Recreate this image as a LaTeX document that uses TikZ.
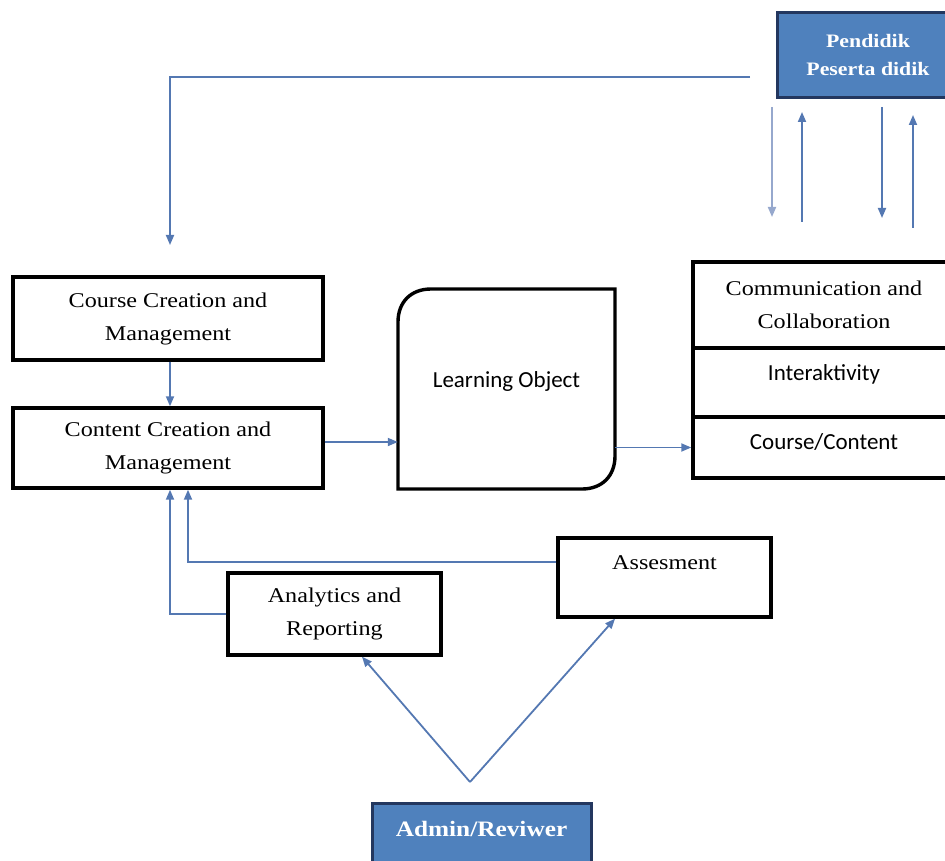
\documentclass[tikz,border=0pt]{standalone}
\usepackage{fontspec}
\setmainfont{Liberation Serif}
\newfontfamily\serifx[FakeStretch=1.15]{Liberation Serif}
\newfontfamily\sansx{Carlito}
\usetikzlibrary{arrows.meta,calc}
\definecolor{arrblue}{RGB}{84,120,178}
\definecolor{arrlight}{RGB}{150,168,205}
\definecolor{boxblue}{RGB}{79,129,189}
\definecolor{boxedge}{RGB}{35,55,95}
\begin{document}
\begin{tikzpicture}[x=1pt,y=-1pt,
  wbox/.style={draw=black, line width=3.4pt, fill=white, inner sep=0pt, align=center},
  bbox/.style={draw=boxedge, line width=3pt, fill=boxblue, inner sep=0pt, align=center, text=white},
  serift/.style={font=\serifx\fontsize{21}{33}\selectfont},
  sanst/.style={font=\sansx\fontsize{23}{28}\selectfont},
  boldt/.style={font=\serifx\bfseries\fontsize{19}{28}\selectfont},
  bigboldt/.style={font=\serifx\bfseries\fontsize{22}{28}\selectfont},
  arr/.style={draw=arrblue, line width=1.8pt, -{Triangle[length=10pt,width=8pt]}},
  arrl/.style={draw=arrlight, line width=1.8pt, -{Triangle[length=10pt,width=8pt]}}
]
\useasboundingbox (0,0) rectangle (945,861);
\clip (0,0) rectangle (945,861);

% Top box
\node[bbox, boldt, minimum width=182, minimum height=85] (pend) at (868,55.5) {Pendidik\\Peserta didik};

% Left column
\node[wbox, serift, minimum width=310, minimum height=83] (course) at (168,318.5) {Course Creation and\\Management};
\node[wbox, serift, minimum width=310, minimum height=80] (content) at (168,448) {Content Creation and\\Management};

% Learning object
\draw[line width=3.4pt, fill=white] (398,489) -- (398,322) .. controls (398,302) and (411,289) .. (431,289) -- (615,289) -- (615,456) .. controls (615,476) and (602,489) .. (582,489) -- cycle;
\node[sanst, minimum width=217, minimum height=200, inner sep=0pt, text height=17pt, text depth=21pt] (lo) at (506.5,389) {Learning Object};

% Right stacked box
\node[wbox, serift, minimum width=262, minimum height=86] (comm) at (824,305) {Communication and\\Collaboration};
\node[wbox, sanst, minimum width=262, minimum height=69, text height=17pt, text depth=21pt] (inter) at (824,382.5) {Interaktivity};
\node[wbox, sanst, minimum width=262, minimum height=61, text height=17pt, text depth=14pt] (cc) at (824,447.5) {Course/Content};

% Lower boxes
\node[wbox, serift, minimum width=213, minimum height=79, text height=15pt, text depth=32pt] (asm) at (664.5,577.5) {Assesment};
\node[wbox, serift, minimum width=213, minimum height=82] (ana) at (334.5,614) {Analytics and\\Reporting};
\node[bbox, bigboldt, minimum width=219, minimum height=70, text height=17pt, text depth=21pt] (admin) at (481.5,838) {Admin/Reviwer};

% Arrows below Pendidik
\coordinate (d1s) at (772,107); \coordinate (d1e) at (772,217);
\coordinate (u1s) at (802,222); \coordinate (u1e) at (802,112);
\coordinate (d2s) at (882,107); \coordinate (d2e) at (882,218);
\coordinate (u2s) at (913,228); \coordinate (u2e) at (913,115);
\draw[arrl] (d1s) -- (d1e);
\draw[arr] (u1s) -- (u1e);
\draw[arr] (d2s) -- (d2e);
\draw[arr] (u2s) -- (u2e);

% Feedback line from top
\coordinate (fbs) at (750,77);
\coordinate (fbe) at (170,245);
\draw[arr] (fbs) -| (fbe);

% Course -> Content
\draw[arr] ([xshift=2pt]course.south) -- ([xshift=2pt]content.north);

% Content -> Learning Object
\draw[arr] ([yshift=6pt]content.east) -- ([yshift=6pt]content.east -| lo.west);

% Learning Object -> Course/Content
\draw[arr] (lo.east |- cc.west) -- (cc.west);

% Feedback to Content
\draw[arr] (ana.west) -| ([xshift=2pt]content.south);
\draw[arr] ([yshift=15.5pt]asm.west) -| ([xshift=20pt]content.south);

% Admin V
\coordinate (apex) at (470,782);
\draw[arr] (apex) -- ([xshift=27.5pt]ana.south);
\draw[arr] (apex) -- ([xshift=-49.5pt]asm.south);
\end{tikzpicture}
\end{document}
